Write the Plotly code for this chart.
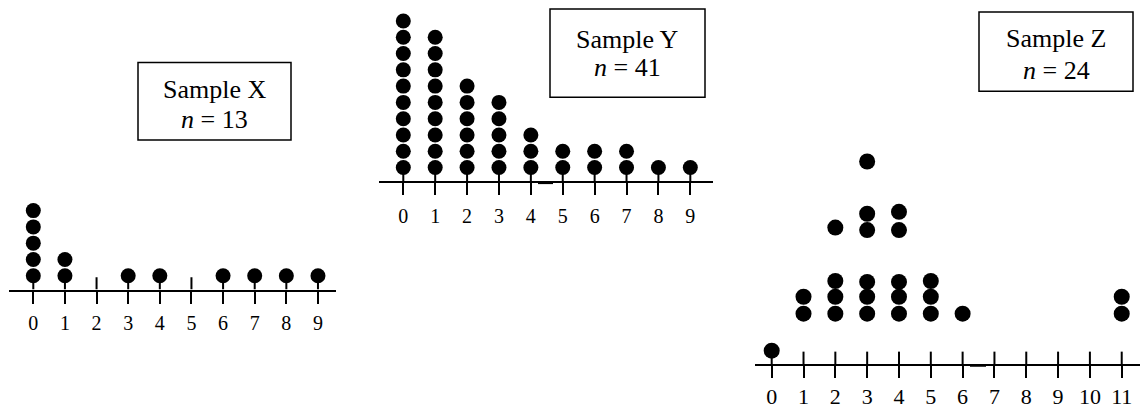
import plotly.graph_objects as go

# Sample X and Y: number of dots stacked above each value
x_values = list(range(10))
x_counts = [5, 2, 0, 1, 1, 0, 1, 1, 1, 1]

y_values = list(range(10))
y_counts = [10, 9, 6, 5, 3, 2, 2, 2, 1, 1]

# Sample Z: the dots are not stacked evenly, so every dot keeps its own height (in dot rows)
z_values = [0, 1, 1, 2, 2, 2, 2, 3, 3, 3, 3, 3, 3, 4, 4, 4, 4, 4, 5, 5, 5, 6, 11, 11]
z_heights = [0.82, 3.09, 4.13, 3.09, 4.13, 5.10, 8.38, 3.09, 4.13, 5.04, 8.23, 9.23, 12.44,
             3.09, 4.13, 5.04, 8.23, 9.35, 3.09, 4.13, 5.10, 3.09, 3.09, 4.13]
z_ticks = list(range(12))

box_titles = ["Sample X", "Sample Y", "Sample Z"]
box_n = [13, 41, 24]

# page / layout constants (pixels)
W, H = 1140, 409
PITCH = 16.4      # px per dot row
BASE = 0.85       # first dot centre above the number line, in rows
FONT = "Liberation Serif, Times New Roman, serif"

panels = [
    dict(zero=33.3, step=31.63, line=(9, 336), axis_y=291.7, top=180, dot=15, label=20, pad=2,
         smudge=None),
    dict(zero=403.3, step=31.89, line=(379, 713), axis_y=182.7, top=0, dot=15, label=20, pad=4,
         smudge=(538, 553)),
    dict(zero=771.7, step=31.82, line=(755, 1140), axis_y=366.7, top=140, dot=16, label=22, pad=0,
         smudge=(970, 986)),
]
# box edges (l, r, t, b) and the centre rows of its two text lines
boxes = [(138, 291, 63, 141, 90.5, 120.5), (550, 705, 9, 98, 39.5, 68.5), (979, 1133, 12, 92, 39, 71)]


def stack(values, counts):
    xs, ys = [], []
    for v, c in zip(values, counts):
        for k in range(c):
            xs.append(v)
            ys.append(BASE + k)
    return xs, ys


x_dx, x_dy = stack(x_values, x_counts)
y_dx, y_dy = stack(y_values, y_counts)
dots = [(x_dx, x_dy, x_values), (y_dx, y_dy, y_values), (z_values, z_heights, z_ticks)]

fig = go.Figure()

for i, (p, (dx, dy, ticks)) in enumerate(zip(panels, dots)):
    sfx = "" if i == 0 else str(i + 1)
    xa, ya = "x" + sfx, "y" + sfx

    # upper half of the ticks (the lower half is the axis' own tick)
    sx, sy = [], []
    for t in ticks:
        sx += [t, t, None]
        sy += [0, 0.76, None]
    fig.add_trace(go.Scatter(x=sx, y=sy, mode="lines", line=dict(color="black", width=2),
                             xaxis=xa, yaxis=ya, hoverinfo="skip", showlegend=False))
    fig.add_trace(go.Scatter(x=dx, y=dy, mode="markers",
                             marker=dict(color="black", size=p["dot"], line=dict(width=0)),
                             xaxis=xa, yaxis=ya, showlegend=False, cliponaxis=False))

    l, r = p["line"]
    fig.layout["xaxis" + sfx] = dict(
        domain=[l / W, min(r / W, 1)],
        range=[(l - p["zero"]) / p["step"], (r - p["zero"]) / p["step"]],
        anchor=ya, showline=True, linewidth=2, linecolor="black",
        ticks="outside", ticklen=12, tickwidth=2, tickcolor="black",
        tickvals=ticks, ticktext=[str(t) for t in ticks], ticklabelstandoff=p["pad"],
        tickfont=dict(family=FONT, size=p["label"], color="black"),
        showgrid=False, zeroline=False, fixedrange=True,
    )
    fig.layout["yaxis" + sfx] = dict(
        domain=[1 - p["axis_y"] / H, 1 - p["top"] / H],
        range=[0, (p["axis_y"] - p["top"]) / PITCH],
        anchor=xa, visible=False, fixedrange=True,
    )
    # small thicker stretch of the number line seen in the original scan
    if p["smudge"]:
        a, b = p["smudge"]
        fig.add_shape(type="line", xref="paper", yref="paper",
                      x0=a / W, x1=b / W, y0=1 - (p["axis_y"] + 1.5) / H, y1=1 - (p["axis_y"] + 1.5) / H,
                      line=dict(color="black", width=2.5))

for (l, r, t, b, r1, r2), title, n in zip(boxes, box_titles, box_n):
    fig.add_shape(type="rect", xref="paper", yref="paper",
                  x0=l / W, x1=r / W, y0=1 - t / H, y1=1 - b / H,
                  line=dict(color="black", width=1.5))
    for row, txt in [(r1, title), (r2, f"<i>n</i> = {n}")]:
        fig.add_annotation(
            x=(l + r) / 2 / W, y=1 - row / H, xref="paper", yref="paper",
            xanchor="center", yanchor="middle", showarrow=False, text=txt,
            font=dict(family=FONT, size=26, color="black"),
        )

fig.update_layout(
    width=W, height=H, margin=dict(l=0, r=0, t=0, b=0),
    paper_bgcolor="white", plot_bgcolor="white",
)

fig.write_html("out.html", config={"displayModeBar": False},
               post_script="document.body.style.margin='0px';")
